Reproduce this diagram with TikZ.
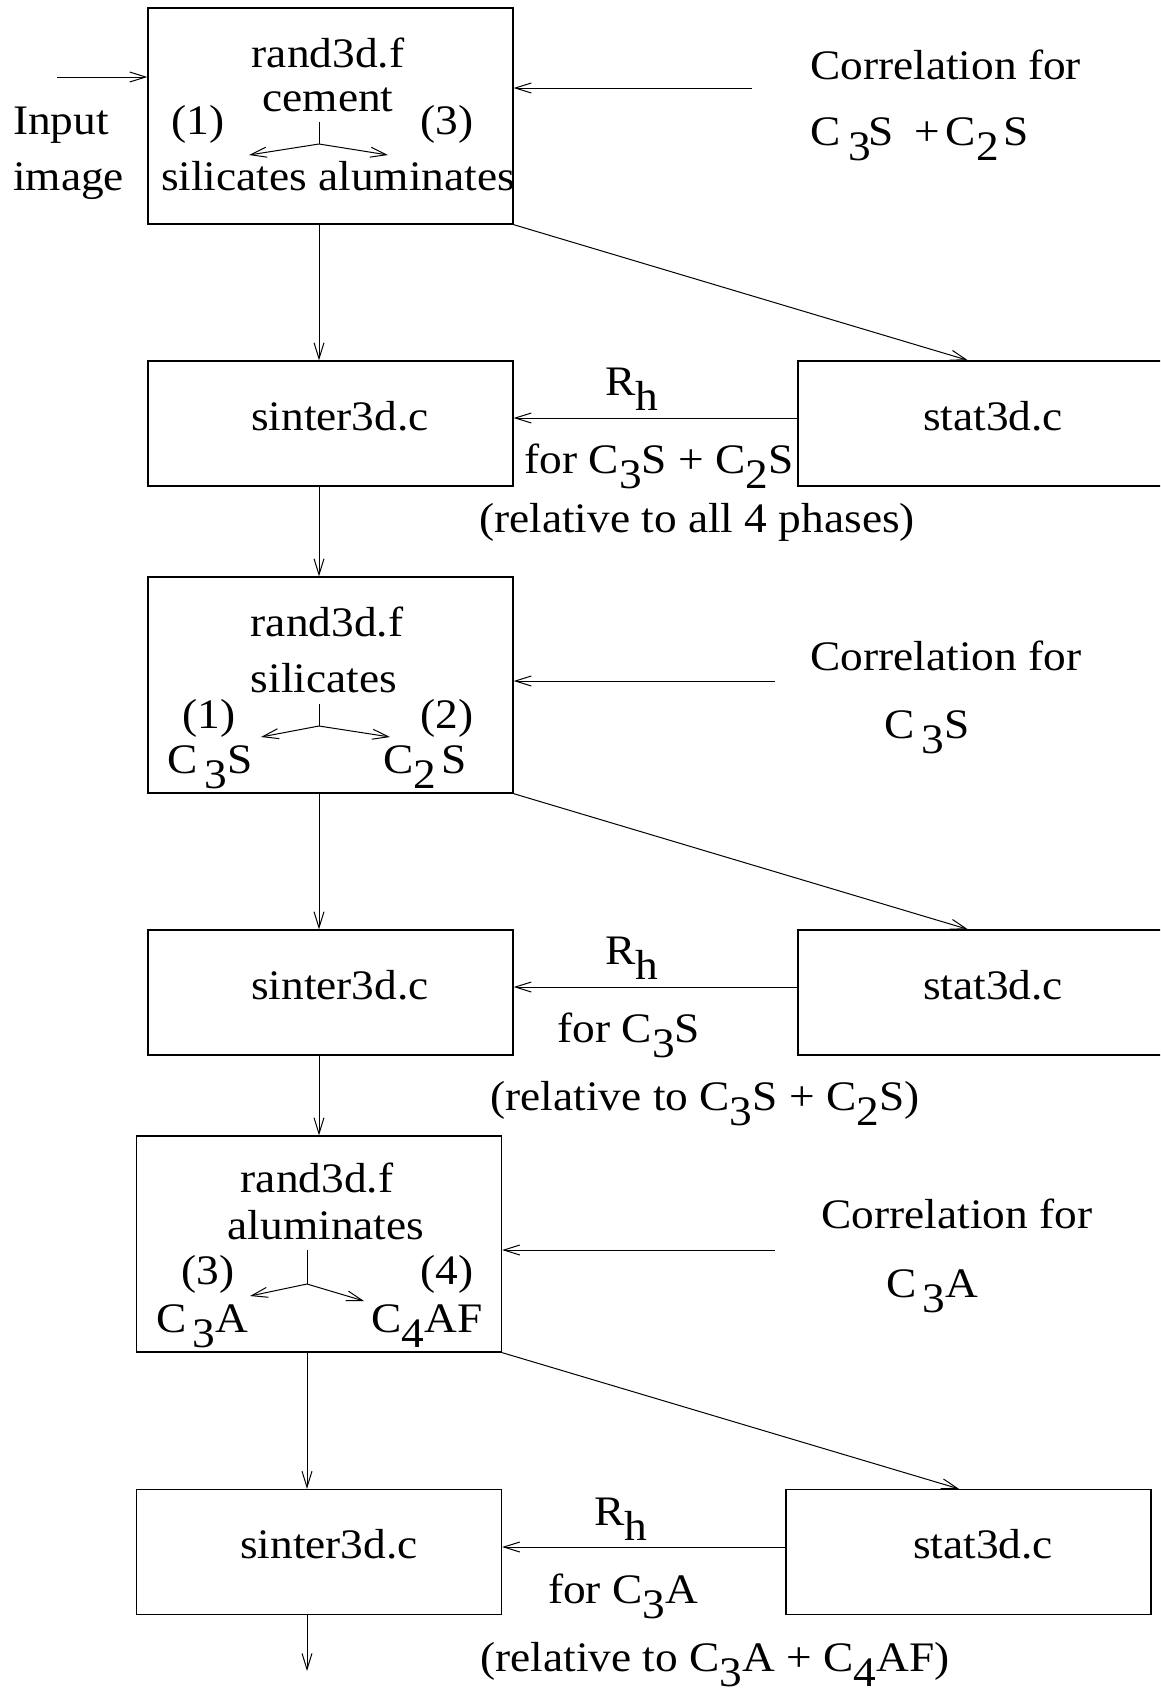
\documentclass[tikz,border=0pt]{standalone}
\usepackage{fontspec}
\setmainfont{Liberation Serif}[FakeStretch=1.08]
\usetikzlibrary{arrows.meta}
% lowered full-size index, as in C3S
\newcommand{\lo}[1]{\raisebox{-0.36em}{#1}}
\tikzset{
  lbl/.style={font=\fontsize{42pt}{48pt}\selectfont, inner sep=0pt, anchor=base},
  box/.style={draw, line width=1.3pt, inner sep=0pt, minimum width=365pt},
  tall/.style={box, minimum height=216pt},
  flat/.style={box, minimum height=125pt},
  arr/.style={line width=1pt, -{Straight Barb[length=16pt,width=10pt,line width=1pt]}},
  twig/.style={line width=1pt},
}
\begin{document}
\begin{tikzpicture}[x=1pt, y=-1pt]
\useasboundingbox (0,0) rectangle (1160,1695);
\begin{scope}
\clip (0,0) rectangle (1160,1695);

% ---------- program boxes ----------
\node[tall] (r1) at (330.5,116) {};
\node[flat] (s1) at (330.5,423.5) {};
\node[flat] (t1) at (980.5,423.5) {};
\node[tall] (r2) at (330.5,685) {};
\node[flat] (s2) at (330.5,992.5) {};
\node[flat] (t2) at (980.5,992.5) {};
\node[tall] (r3) at (319,1244) {};
\node[flat] (s3) at (319,1552) {};
\node[flat] (t3) at (968.5,1552) {};

% ---------- stage 1: cement ----------
\node[lbl, anchor=base west] (inp) at (13,134) {Input};
\node[lbl, anchor=base west] (img) at (13,190) {image};
\coordinate (in) at (57,77);
\draw[arr] (in) -- (in -| r1.west);

\node[lbl] (r1a) at (328,67) {rand3d.f};
\node[lbl] (r1b) at (328,111) {cement};
\node[lbl] (r1c) at (198,134) {(1)};
\node[lbl] (r1d) at (447,134) {(3)};
\node[lbl] (r1e) at (338,190) {silicates aluminates};
\coordinate (b1t) at (319,122);
\coordinate (b1j) at (319,144);
\coordinate (b1l) at (249,155);
\coordinate (b1r) at (388,155);
\draw[twig] (b1t) -- (b1j);
\draw[arr] (b1j) -- (b1l);
\draw[arr] (b1j) -- (b1r);

\node[lbl, anchor=base west] (k1a) at (810,79) {Correlation for};
\node[lbl, anchor=base west] (k1b) at (810,145)
  {C\hspace{0.2em}\lo{3}\hspace{-0.08em}S\hspace{0.5em}+\hspace{0.12em}C\hspace{0.02em}\lo{2}\hspace{0.12em}S};
\coordinate (c1) at (752,88);
\draw[arr] (c1) -- (c1 -| r1.east);

\draw[arr] ([xshift=-11.5pt]r1.south) -- ([xshift=-11.5pt]s1.north);
\draw[arr] (r1.south east) -- ([xshift=-12.5pt]t1.north);

\node[lbl] (s1a) at (340,430) {sinter3d.c};
\node[lbl] (t1a) at (993,430) {stat3d.c};
\draw[arr] ([yshift=5.5pt]t1.west) -- ([yshift=5.5pt]s1.east);
\node[lbl] (h1) at (632,395) {R\lo{h}};
\node[lbl] (f1) at (659,473) {for C\lo{3}S + C\lo{2}S};
\node[lbl] (g1) at (697,532) {(relative to all 4 phases)};

\draw[arr] ([xshift=-11.5pt]s1.south) -- ([xshift=-11.5pt]r2.north);

% ---------- stage 2: silicates ----------
\node[lbl] (r2a) at (327,636) {rand3d.f};
\node[lbl] (r2b) at (324,692) {silicates};
\node[lbl] (r2c) at (209,728) {(1)};
\node[lbl] (r2d) at (447,728) {(2)};
\node[lbl] (r2e) at (210,773) {C\hspace{0.15em}\lo{3}S};
\node[lbl] (r2f) at (425,773) {C\lo{2}\hspace{0.12em}S};
\coordinate (b2t) at (319,704);
\coordinate (b2j) at (319,726);
\coordinate (b2l) at (261,737);
\coordinate (b2r) at (390,737);
\draw[twig] (b2t) -- (b2j);
\draw[arr] (b2j) -- (b2l);
\draw[arr] (b2j) -- (b2r);

\node[lbl] (k2a) at (946,670) {Correlation for};
\node[lbl] (k2b) at (927,738) {C\hspace{0.15em}\lo{3}S};
\coordinate (c2) at (775,681);
\draw[arr] (c2) -- (c2 -| r2.east);

\draw[arr] ([xshift=-11.5pt]r2.south) -- ([xshift=-11.5pt]s2.north);
\draw[arr] (r2.south east) -- ([xshift=-12.5pt]t2.north);

\node[lbl] (s2a) at (340,999) {sinter3d.c};
\node[lbl] (t2a) at (993,999) {stat3d.c};
\draw[arr] ([yshift=5.5pt]t2.west) -- ([yshift=5.5pt]s2.east);
\node[lbl] (h2) at (632,964) {R\lo{h}};
\node[lbl] (f2) at (629,1042) {for C\lo{3}S};
\node[lbl] (g2) at (705,1110) {(relative to C\lo{3}S + C\lo{2}S)};

\draw[arr] ([xshift=-11.5pt]s2.south) -- ([xshift=-11.5pt]s2.south |- r3.north);

% ---------- stage 3: aluminates ----------
\node[lbl] (r3a) at (317,1192) {rand3d.f};
\node[lbl] (r3b) at (326,1239) {aluminates};
\node[lbl] (r3c) at (208,1284) {(3)};
\node[lbl] (r3d) at (447,1284) {(4)};
\node[lbl] (r3e) at (202,1332) {C\hspace{0.15em}\lo{3}A};
\node[lbl] (r3f) at (427,1332) {C\lo{4}AF};
\coordinate (b3t) at (307,1250);
\coordinate (b3j) at (307,1284);
\coordinate (b3l) at (250,1296);
\coordinate (b3r) at (364,1301);
\draw[twig] (b3t) -- (b3j);
\draw[arr] (b3j) -- (b3l);
\draw[arr] (b3j) -- (b3r);

\node[lbl] (k3a) at (957,1228) {Correlation for};
\node[lbl] (k3b) at (932,1297) {C\hspace{0.15em}\lo{3}A};
\coordinate (c3) at (775,1250);
\draw[arr] (c3) -- (c3 -| r3.east);

\draw[arr] ([xshift=-12pt]r3.south) -- ([xshift=-12pt]s3.north);
\draw[arr] (r3.south east) -- ([xshift=-9.5pt]t3.north);

\node[lbl] (s3a) at (329,1558) {sinter3d.c};
\node[lbl] (t3a) at (983,1558) {stat3d.c};
\draw[arr] ([yshift=5pt]t3.west) -- ([yshift=5pt]s3.east);
\node[lbl] (h3) at (621,1525) {R\lo{h}};
\node[lbl] (f3) at (623,1603) {for C\lo{3}A};
\node[lbl] (g3) at (715,1671) {(relative to C\lo{3}A + C\lo{4}AF)};

\coordinate (out) at (307,1671);
\draw[arr] ([xshift=-12pt]s3.south) -- (out);
\end{scope}
\end{tikzpicture}
\end{document}
